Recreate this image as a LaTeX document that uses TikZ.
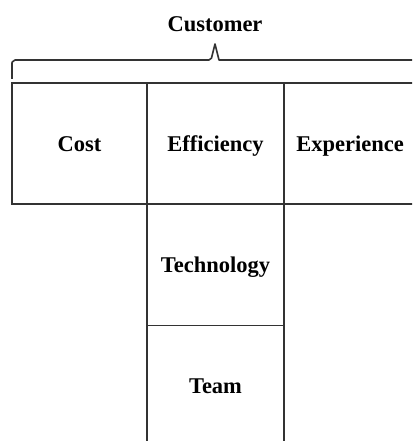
\documentclass[tikz,border=0pt]{standalone}
\usepackage{fontspec}
\setmainfont{Liberation Serif}
\begin{document}
\begin{tikzpicture}[x=1pt,y=-1pt,
  cell/.style={draw=black!80, line width=1.6pt, rectangle, inner sep=0pt, outer sep=0pt,
    minimum width=#1, minimum height=121pt, text height=20pt, text depth=5pt,
    font=\fontsize{22.5}{26}\selectfont\bfseries},
  lbl/.style={font=\fontsize{22.5}{26}\selectfont\bfseries, inner sep=0pt},
  bracepath/.style={draw=black!80, line width=1.6pt, line join=round}]
\useasboundingbox (0,0) rectangle (412,441);
\begin{scope}
\clip (0,0) rectangle (412,441);
\node[cell=135pt] (cost) at (79.5,143.5) {Cost};
\node[cell=137pt] (eff) at (215.5,143.5) {Efficiency};
\node[cell=132pt] (exp) at (350,143.5) {Experience};
\node[cell=137pt] (tech) at (215.5,265) {Technology};
\node[cell=137pt] (team) at (215.5,386) {Team};
\coordinate (bl) at (12,79);
\coordinate (br) at (430,60);
\draw[bracepath] (bl) -- (12,63) [rounded corners=2pt] -- (13,60) -- (211,60) [sharp corners] -- (215,44) -- (219,60) -- (br);
\end{scope}
\node[lbl] (cust) at (215,24) {Customer};
\end{tikzpicture}
\end{document}
